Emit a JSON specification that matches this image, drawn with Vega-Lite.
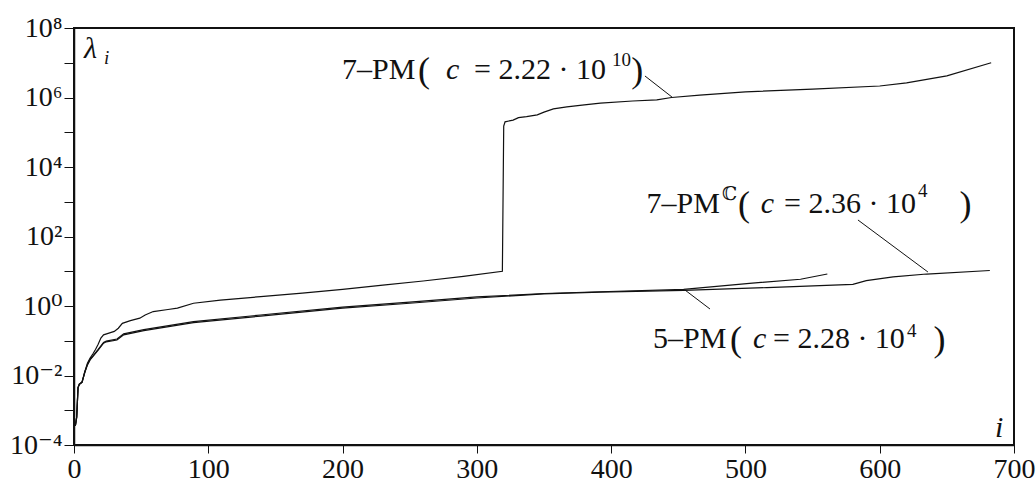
{
  "$schema": "https://vega.github.io/schema/vega-lite/v6.json",
  "width": 940,
  "height": 417,
  "autosize": "none",
  "padding": {"left": 74, "top": 28, "right": 22, "bottom": 39},
  "background": "white",
  "config": {
    "view": {"stroke": "#111", "strokeWidth": 2},
    "font": "Liberation Serif, Times New Roman, DejaVu Serif, serif",
    "axis": {"domainColor": "#111", "domainWidth": 1.5, "tickColor": "#111", "tickWidth": 1, "grid": false, "labelColor": "#111", "title": null}
  },
  "datasets": {
    "curves": [
      {"series": "7-PM", "i": 1, "v": 0.000355},
      {"series": "7-PM", "i": 2, "v": 0.000631},
      {"series": "7-PM", "i": 3, "v": 0.00447},
      {"series": "7-PM", "i": 4, "v": 0.00562},
      {"series": "7-PM", "i": 6, "v": 0.00631},
      {"series": "7-PM", "i": 8, "v": 0.0126},
      {"series": "7-PM", "i": 10, "v": 0.0224},
      {"series": "7-PM", "i": 12, "v": 0.0316},
      {"series": "7-PM", "i": 14, "v": 0.0417},
      {"series": "7-PM", "i": 16, "v": 0.0562},
      {"series": "7-PM", "i": 18, "v": 0.0794},
      {"series": "7-PM", "i": 20, "v": 0.12},
      {"series": "7-PM", "i": 22, "v": 0.148},
      {"series": "7-PM", "i": 26, "v": 0.166},
      {"series": "7-PM", "i": 30, "v": 0.186},
      {"series": "7-PM", "i": 33, "v": 0.229},
      {"series": "7-PM", "i": 36, "v": 0.316},
      {"series": "7-PM", "i": 42, "v": 0.38},
      {"series": "7-PM", "i": 49, "v": 0.447},
      {"series": "7-PM", "i": 53, "v": 0.55},
      {"series": "7-PM", "i": 59, "v": 0.692},
      {"series": "7-PM", "i": 70, "v": 0.794},
      {"series": "7-PM", "i": 77, "v": 0.871},
      {"series": "7-PM", "i": 89, "v": 1.2},
      {"series": "7-PM", "i": 109, "v": 1.48},
      {"series": "7-PM", "i": 139, "v": 1.86},
      {"series": "7-PM", "i": 170, "v": 2.34},
      {"series": "7-PM", "i": 200, "v": 3.02},
      {"series": "7-PM", "i": 230, "v": 3.98},
      {"series": "7-PM", "i": 260, "v": 5.25},
      {"series": "7-PM", "i": 290, "v": 7.08},
      {"series": "7-PM", "i": 319, "v": 10.0},
      {"series": "7-PM", "i": 320, "v": 151000},
      {"series": "7-PM", "i": 321, "v": 200000},
      {"series": "7-PM", "i": 327, "v": 224000},
      {"series": "7-PM", "i": 331, "v": 263000},
      {"series": "7-PM", "i": 337, "v": 282000},
      {"series": "7-PM", "i": 345, "v": 316000},
      {"series": "7-PM", "i": 350, "v": 380000},
      {"series": "7-PM", "i": 357, "v": 468000},
      {"series": "7-PM", "i": 367, "v": 537000},
      {"series": "7-PM", "i": 380, "v": 617000},
      {"series": "7-PM", "i": 392, "v": 692000},
      {"series": "7-PM", "i": 416, "v": 794000},
      {"series": "7-PM", "i": 434, "v": 851000},
      {"series": "7-PM", "i": 445, "v": 1000000},
      {"series": "7-PM", "i": 466, "v": 1170000},
      {"series": "7-PM", "i": 500, "v": 1450000},
      {"series": "7-PM", "i": 550, "v": 1740000},
      {"series": "7-PM", "i": 600, "v": 2140000},
      {"series": "7-PM", "i": 620, "v": 2630000},
      {"series": "7-PM", "i": 650, "v": 4170000},
      {"series": "7-PM", "i": 683, "v": 10000000},

      {"series": "7-PMC", "i": 1, "v": 0.000355},
      {"series": "7-PMC", "i": 2, "v": 0.000631},
      {"series": "7-PMC", "i": 3, "v": 0.00447},
      {"series": "7-PMC", "i": 4, "v": 0.00562},
      {"series": "7-PMC", "i": 6, "v": 0.00631},
      {"series": "7-PMC", "i": 8, "v": 0.0126},
      {"series": "7-PMC", "i": 10, "v": 0.02},
      {"series": "7-PMC", "i": 12, "v": 0.0282},
      {"series": "7-PMC", "i": 14, "v": 0.0347},
      {"series": "7-PMC", "i": 18, "v": 0.0537},
      {"series": "7-PMC", "i": 22, "v": 0.0851},
      {"series": "7-PMC", "i": 24, "v": 0.0933},
      {"series": "7-PMC", "i": 32, "v": 0.105},
      {"series": "7-PMC", "i": 37, "v": 0.148},
      {"series": "7-PMC", "i": 52, "v": 0.195},
      {"series": "7-PMC", "i": 89, "v": 0.331},
      {"series": "7-PMC", "i": 139, "v": 0.513},
      {"series": "7-PMC", "i": 200, "v": 0.871},
      {"series": "7-PMC", "i": 250, "v": 1.2},
      {"series": "7-PMC", "i": 300, "v": 1.7},
      {"series": "7-PMC", "i": 350, "v": 2.24},
      {"series": "7-PMC", "i": 392, "v": 2.51},
      {"series": "7-PMC", "i": 454, "v": 2.82},
      {"series": "7-PMC", "i": 516, "v": 3.39},
      {"series": "7-PMC", "i": 580, "v": 4.17},
      {"series": "7-PMC", "i": 590, "v": 5.37},
      {"series": "7-PMC", "i": 610, "v": 6.92},
      {"series": "7-PMC", "i": 635, "v": 8.32},
      {"series": "7-PMC", "i": 682, "v": 10.5},

      {"series": "5-PM", "i": 1, "v": 0.000355},
      {"series": "5-PM", "i": 2, "v": 0.000631},
      {"series": "5-PM", "i": 3, "v": 0.00447},
      {"series": "5-PM", "i": 4, "v": 0.00562},
      {"series": "5-PM", "i": 6, "v": 0.00661},
      {"series": "5-PM", "i": 8, "v": 0.012},
      {"series": "5-PM", "i": 10, "v": 0.0209},
      {"series": "5-PM", "i": 12, "v": 0.0295},
      {"series": "5-PM", "i": 14, "v": 0.0363},
      {"series": "5-PM", "i": 18, "v": 0.0562},
      {"series": "5-PM", "i": 22, "v": 0.0891},
      {"series": "5-PM", "i": 24, "v": 0.0977},
      {"series": "5-PM", "i": 32, "v": 0.112},
      {"series": "5-PM", "i": 37, "v": 0.158},
      {"series": "5-PM", "i": 52, "v": 0.209},
      {"series": "5-PM", "i": 89, "v": 0.355},
      {"series": "5-PM", "i": 139, "v": 0.55},
      {"series": "5-PM", "i": 200, "v": 0.933},
      {"series": "5-PM", "i": 250, "v": 1.29},
      {"series": "5-PM", "i": 300, "v": 1.82},
      {"series": "5-PM", "i": 350, "v": 2.29},
      {"series": "5-PM", "i": 392, "v": 2.57},
      {"series": "5-PM", "i": 454, "v": 3.02},
      {"series": "5-PM", "i": 503, "v": 4.47},
      {"series": "5-PM", "i": 541, "v": 5.89},
      {"series": "5-PM", "i": 561, "v": 8.32}
    ],
    "leaders": [
      {"i": 425.2, "v": 4160000, "i2": 445.3, "v2": 1030000},
      {"i": 583.8, "v": 298.5, "i2": 635.9, "v2": 9.51},
      {"i": 455, "v": 2.88, "i2": 473.6, "v2": 0.82}
    ],
    "roman": [
      {"t": "7–PM", "i": 199.6, "v": 3404000},
      {"t": "=  2.22 · 10", "i": 297.9, "v": 3404000},
      {"t": "7–PM", "i": 426.4, "v": 474},
      {"t": "=  2.36 · 10", "i": 528.7, "v": 474},
      {"t": "5–PM", "i": 431.2, "v": 0.0618},
      {"t": "=  2.28 · 10", "i": 520.5, "v": 0.0618}
    ],
    "paren": [
      {"t": "(", "i": 256.2, "v": 3404000},
      {"t": ")", "i": 415, "v": 3404000},
      {"t": "(", "i": 494.5, "v": 474},
      {"t": ")", "i": 659.5, "v": 474},
      {"t": "(", "i": 488.5, "v": 0.0618},
      {"t": ")", "i": 640, "v": 0.0618}
    ],
    "italic": [
      {"t": "c", "i": 277, "v": 3404000},
      {"t": "c", "i": 511.5, "v": 474},
      {"t": "c", "i": 505.6, "v": 0.0618},
      {"t": "λ", "i": 7.4, "v": 13710000},
      {"t": "i", "i": 685.8, "v": 0.00017}
    ],
    "sup": [
      {"t": "10", "i": 400.6, "v": 8050000},
      {"t": "ℂ", "i": 482.5, "v": 1122},
      {"t": "4", "i": 628.5, "v": 1371},
      {"t": "4", "i": 620.3, "v": 0.128}
    ],
    "sub": [
      {"t": "i", "i": 22.3, "v": 9200000}
    ]
  },
  "encoding": {
    "x": {
      "field": "i", "type": "quantitative",
      "scale": {"domain": [0, 700], "nice": false, "zero": false},
      "axis": {"values": [0, 100, 200, 300, 400, 500, 600, 700], "tickSize": 8, "labelPadding": 2, "labelFlush": false, "labelFont": "Liberation Serif, Times New Roman, DejaVu Serif, serif", "labelFontSize": 28}
    },
    "y": {
      "field": "v", "type": "quantitative",
      "scale": {"type": "log", "domain": [0.0001, 100000000], "nice": false},
      "axis": {
        "values": [0.0001, 0.001, 0.01, 0.1, 1, 10, 100, 1000, 10000, 100000, 1000000, 10000000, 100000000],
        "tickSize": 10, "labelPadding": 2, "labelBaseline": "middle", "labelFlush": false,
        "labelFont": "Liberation Serif, Times New Roman, DejaVu Serif, serif", "labelFontSize": 28,
        "labelExpr": "['10⁻⁴','','10⁻²','','10⁰','','10²','','10⁴','','10⁶','','10⁸'][round(log(datum.value)/LN10)+4]"
      }
    }
  },
  "layer": [
    {
      "data": {"name": "curves"},
      "mark": {"type": "line", "color": "#111", "strokeWidth": 1.2, "interpolate": "linear"},
      "encoding": {"detail": {"field": "series"}, "order": {"field": "i", "type": "quantitative"}}
    },
    {
      "data": {"name": "leaders"},
      "mark": {"type": "rule", "color": "#111", "strokeWidth": 1},
      "encoding": {"x2": {"field": "i2"}, "y2": {"field": "v2"}}
    },
    {
      "data": {"name": "roman"},
      "mark": {"type": "text", "align": "left", "baseline": "alphabetic", "fontSize": 30, "font": "Liberation Serif, Times New Roman, DejaVu Serif, serif", "color": "#111"},
      "encoding": {"text": {"field": "t"}}
    },
    {
      "data": {"name": "paren"},
      "mark": {"type": "text", "align": "left", "baseline": "alphabetic", "fontSize": 36, "dy": 3, "font": "Liberation Serif, Times New Roman, DejaVu Serif, serif", "color": "#111"},
      "encoding": {"text": {"field": "t"}}
    },
    {
      "data": {"name": "italic"},
      "mark": {"type": "text", "align": "left", "baseline": "alphabetic", "fontSize": 30, "font": "Liberation Serif, Times New Roman, DejaVu Serif, serif", "fontStyle": "italic", "color": "#111"},
      "encoding": {"text": {"field": "t"}}
    },
    {
      "data": {"name": "sup"},
      "mark": {"type": "text", "align": "left", "baseline": "alphabetic", "fontSize": 19, "font": "Liberation Serif, Times New Roman, DejaVu Serif, serif", "color": "#111"},
      "encoding": {"text": {"field": "t"}}
    },
    {
      "data": {"name": "sub"},
      "mark": {"type": "text", "align": "left", "baseline": "alphabetic", "fontSize": 19, "font": "Liberation Serif, Times New Roman, DejaVu Serif, serif", "fontStyle": "italic", "color": "#111"},
      "encoding": {"text": {"field": "t"}}
    }
  ]
}
